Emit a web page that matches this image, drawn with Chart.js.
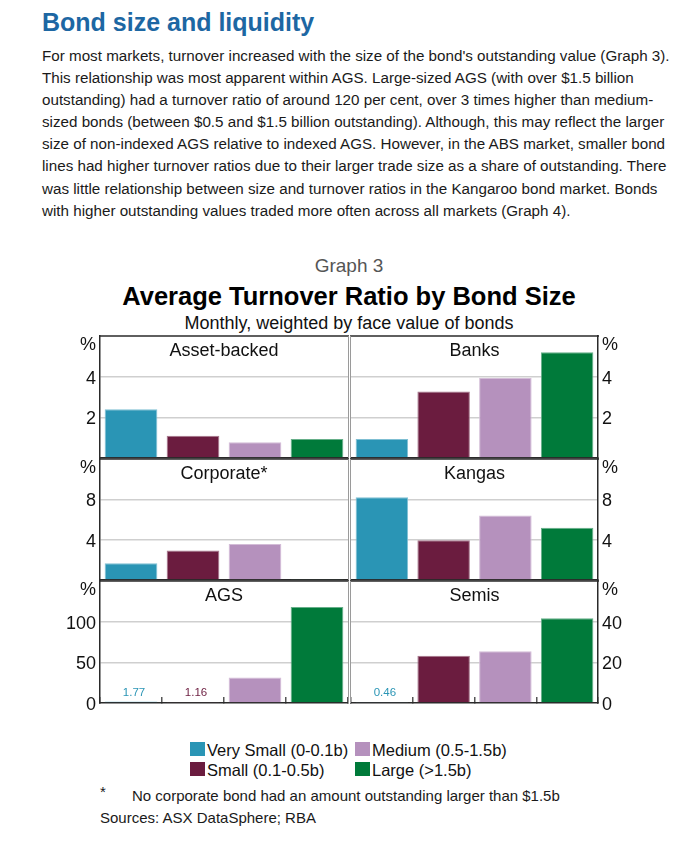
<!DOCTYPE html>
<html>
<head>
<meta charset="utf-8">
<script src="https://cdn.jsdelivr.net/npm/chart.js@4.4.0/dist/chart.umd.min.js"></script>
<style>
body{margin:0;background:#fff;font-family:"Liberation Sans",Arial,sans-serif;color:#1a1a1a;}
#hoja{position:relative;width:698px;height:846px;overflow:hidden;}
.abs{position:absolute;white-space:nowrap;}
.centro{left:0;width:698px;text-align:center;}
#titulo{left:42px;top:8px;font-size:25px;line-height:28px;font-weight:bold;color:#1d67a3;}
#texto{left:42px;top:45px;font-size:15.2px;line-height:22.1px;}
#graph{top:255px;font-size:19px;line-height:22px;color:#555;}
#principal{top:281px;font-size:25.5px;line-height:30px;font-weight:bold;color:#000;}
#sub{top:313px;font-size:18px;line-height:20px;color:#111;}
.panel{font-size:18px;line-height:20px;text-align:center;color:#111;}
canvas{position:absolute;}
.caja{position:absolute;width:15px;height:14px;}
.item{font-size:16.5px;line-height:20px;color:#111;}
#nota{left:132px;top:787px;font-size:15px;line-height:18px;}
#asterisco{left:100px;top:783px;font-size:15px;line-height:18px;}
#fuentes{left:100px;top:809px;font-size:15px;line-height:18px;}
</style>
</head>
<body>
<div id="hoja">

<div class="abs" id="titulo">Bond size and liquidity</div>

<div class="abs" id="texto">For most markets, turnover increased with the size of the bond's outstanding value (Graph 3).<br>This relationship was most apparent within AGS. Large-sized AGS (with over $1.5 billion<br>outstanding) had a turnover ratio of around 120 per cent, over 3 times higher than medium-<br>sized bonds (between $0.5 and $1.5 billion outstanding). Although, this may reflect the larger<br>size of non-indexed AGS relative to indexed AGS. However, in the ABS market, smaller bond<br>lines had higher turnover ratios due to their larger trade size as a share of outstanding. There<br>was little relationship between size and turnover ratios in the Kangaroo bond market. Bonds<br>with higher outstanding values traded more often across all markets (Graph 4).</div>

<div class="abs centro" id="graph">Graph 3</div>
<div class="abs centro" id="principal">Average Turnover Ratio by Bond Size</div>
<div class="abs centro" id="sub">Monthly, weighted by face value of bonds</div>

<canvas id="gAsset" width="350" height="162" style="left:0px;top:316px"></canvas>
<canvas id="gBanks" width="348" height="162" style="left:350px;top:316px"></canvas>
<canvas id="gCorp" width="350" height="161" style="left:0px;top:439px"></canvas>
<canvas id="gKangas" width="348" height="161" style="left:350px;top:439px"></canvas>
<canvas id="gAGS" width="350" height="162" style="left:0px;top:561px"></canvas>
<canvas id="gSemis" width="348" height="162" style="left:350px;top:561px"></canvas>

<div class="abs panel" style="left:100px;width:248px;top:340px">Asset-backed</div>
<div class="abs panel" style="left:351px;width:247px;top:340px">Banks</div>
<div class="abs panel" style="left:100px;width:248px;top:463px">Corporate*</div>
<div class="abs panel" style="left:351px;width:247px;top:463px">Kangas</div>
<div class="abs panel" style="left:100px;width:248px;top:585px">AGS</div>
<div class="abs panel" style="left:351px;width:247px;top:585px">Semis</div>

<div id="leyenda"></div>

<div class="abs" id="asterisco">*</div>
<div class="abs" id="nota">No corporate bond had an amount outstanding larger than $1.5b</div>
<div class="abs" id="fuentes">Sources: ASX DataSphere; RBA</div>

</div>

<script>

const categorias = [
    "Very Small (0-0.1b)",
    "Small (0.1-0.5b)",
    "Medium (0.5-1.5b)",
    "Large (>1.5b)"
];

const colores = ["#2a95b5", "#6b1c3f", "#b591bd", "#007a3a"];
const bordes = ["#7fbfd3", "#a6778c", "#d3bcd7", "#66af89"];

// valores (%)
const assetBacked = [2.4, 1.1, 0.78, 0.93];
const banks = [0.93, 3.27, 3.93, 5.2];
const corporate = [1.66, 2.92, 3.57, 0.05];
const kangas = [8.2, 3.93, 6.4, 5.18];
const ags = [1.77, 1.16, 31.5, 118];
const semis = [0.46, 23.2, 25.5, 41.7];

const ticksFila1 = [0, 2, 4, 6];
const ticksFila2 = [0, 4, 8, 12];
const ticksAGS = [0, 50, 100, 150];
const ticksSemis = [0, 20, 40, 60];

const marco = {
    id: "marco",
    afterDraw(chart, args, opts){
        const ctx = chart.ctx;
        const a = chart.chartArea;
        ctx.save();
        ctx.lineWidth = 1.5;
        ctx.strokeStyle = "#2a2a2a";
        ctx.beginPath();
        ctx.moveTo(a.left - 1, a.top);
        ctx.lineTo(a.right + 1, a.top);
        ctx.stroke();
        ctx.lineWidth = 1;
        ctx.strokeStyle = "#9a9a9a";
        const x = opts.lado === "right" ? a.right + 0.5 : a.left - 0.5;
        ctx.beginPath();
        ctx.moveTo(x, a.top);
        ctx.lineTo(x, a.bottom);
        ctx.stroke();
        ctx.restore();
    }
};

const etiquetas = {
    id: "etiquetas",
    afterDatasetsDraw(chart, args, opts){
        if(!opts.mostrar) return;
        const ctx = chart.ctx;
        const meta = chart.getDatasetMeta(0);
        const datos = chart.data.datasets[0].data;
        ctx.save();
        ctx.font = "11.5px 'Liberation Sans', Arial, sans-serif";
        ctx.textAlign = "center";
        ctx.textBaseline = "bottom";
        meta.data.forEach((barra, i) => {
            if(datos[i] < 5){
                ctx.fillStyle = colores[i];
                ctx.fillText(datos[i].toFixed(2), barra.x + 3, barra.y - 3);
            }
        });
        ctx.restore();
    }
};

function crearPanel(id, valores, ticks, lado, conZero, conMarcas){

    const maximo = ticks[ticks.length - 1];

    new Chart(
        document.getElementById(id),
        {
            type: "bar",
            data: {
                labels: categorias,
                datasets: [{
                    data: valores,
                    backgroundColor: colores,
                    borderColor: bordes,
                    borderWidth: 1,
                    categoryPercentage: 1,
                    barPercentage: 0.85
                }]
            },
            plugins: [marco, etiquetas],
            options: {
                responsive: false,
                animation: false,
                layout: {
                    padding: {
                        top: 20,
                        bottom: 20,
                        left: lado === "left" ? 0 : 1,
                        right: lado === "left" ? 2 : 0
                    }
                },
                plugins: {
                    legend: {display: false},
                    tooltip: {enabled: false},
                    marco: {lado: lado === "left" ? "right" : "left"},
                    etiquetas: {mostrar: conMarcas}
                },
                scales: {
                    x: {
                        display: true,
                        ticks: {display: false},
                        grid: {
                            display: conMarcas,
                            offset: true,
                            drawOnChartArea: false,
                            drawTicks: true,
                            tickLength: -6,
                            color: "#555",
                            lineWidth: 1.5
                        },
                        border: {display: true, color: "#2a2a2a", width: 1.5},
                        afterFit: s => { s.height = 0; }
                    },
                    y: {
                        position: lado,
                        min: 0,
                        max: maximo,
                        afterBuildTicks: s => {
                            s.ticks = ticks.map(v => ({value: v}));
                        },
                        afterFit: s => { s.width = 100; },
                        grid: {
                            drawTicks: false,
                            lineWidth: 1.5,
                            color: c =>
                                (c.tick && (c.tick.value === 0 || c.tick.value === maximo))
                                ? "rgba(0,0,0,0)"
                                : "#cfcfcf"
                        },
                        border: {display: true, color: "#2a2a2a", width: 1.5},
                        ticks: {
                            padding: 4,
                            labelOffset: 2,
                            color: "#111",
                            font: c => ({
                                family: "'Liberation Sans', Arial, sans-serif",
                                size: 18,
                                lineHeight: (c.tick && c.tick.value === maximo) ? 0.78 : 1.2
                            }),
                            callback: v => {
                                if(v === maximo) return ["", "%"];
                                if(v === 0 && !conZero) return "";
                                return String(v);
                            }
                        }
                    }
                }
            }
        }
    );
}

function crearLeyenda(){
    const cont = document.getElementById("leyenda");
    const columnas = [190, 355];
    const filas = [741.5, 762];
    const orden = [[0, 0], [0, 1], [1, 0], [1, 1]];
    categorias.forEach((nombre, i) => {
        const [c, f] = orden[i];
        const caja = document.createElement("div");
        caja.className = "caja";
        caja.style.left = columnas[c] + "px";
        caja.style.top = filas[f] + "px";
        caja.style.background = colores[i];
        cont.appendChild(caja);
        const txt = document.createElement("div");
        txt.className = "abs item";
        txt.style.left = (columnas[c] + 17) + "px";
        txt.style.top = (filas[f] - 2) + "px";
        txt.textContent = nombre;
        cont.appendChild(txt);
    });
}

crearPanel("gAsset", assetBacked, ticksFila1, "left", false, false);
crearPanel("gBanks", banks, ticksFila1, "right", false, false);
crearPanel("gCorp", corporate, ticksFila2, "left", false, false);
crearPanel("gKangas", kangas, ticksFila2, "right", false, false);
crearPanel("gAGS", ags, ticksAGS, "left", true, true);
crearPanel("gSemis", semis, ticksSemis, "right", true, true);

crearLeyenda();

</script>
</body>
</html>
